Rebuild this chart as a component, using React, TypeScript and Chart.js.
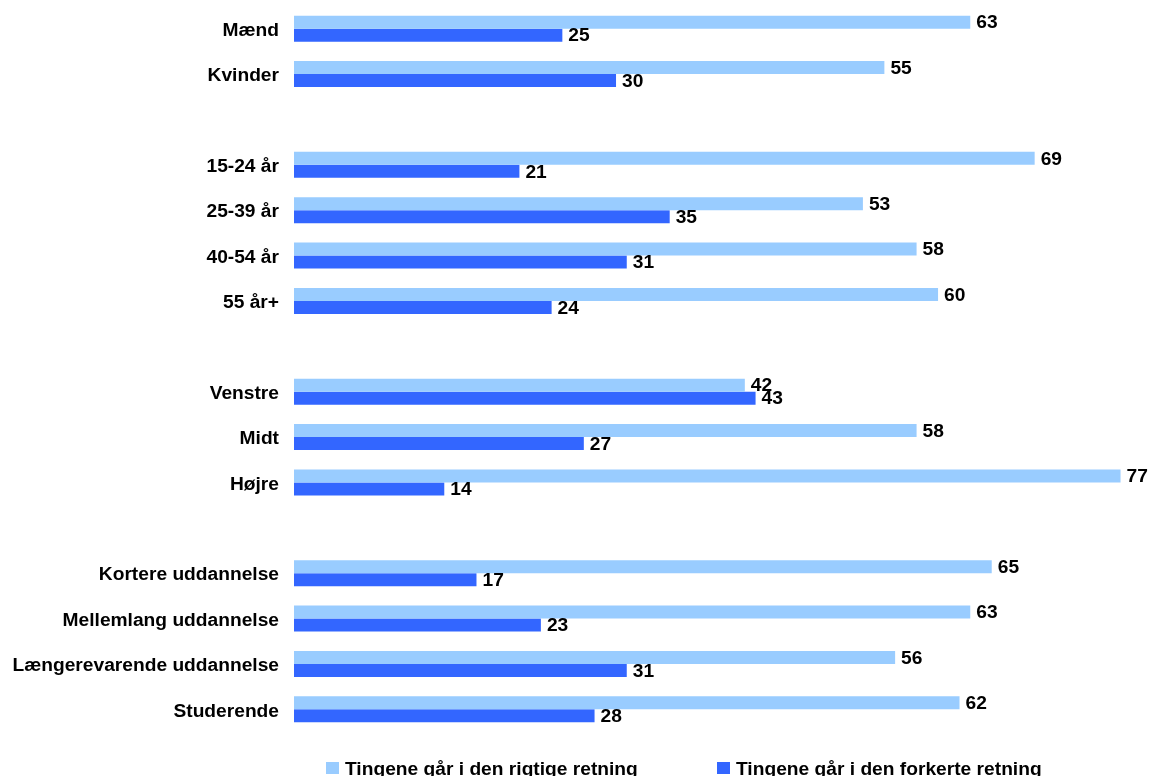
import React, { useEffect, useRef } from "react";
import { Chart, registerables } from "chart.js";

Chart.register(...registerables);

const categories = [
  "Mænd",
  "Kvinder",
  "",
  "15-24 år",
  "25-39 år",
  "40-54 år",
  "55 år+",
  "",
  "Venstre",
  "Midt",
  "Højre",
  "",
  "Kortere uddannelse",
  "Mellemlang uddannelse",
  "Længerevarende uddannelse",
  "Studerende",
];

const rigtigeValues = [63, 55, null, 69, 53, 58, 60, null, 42, 58, 77, null, 65, 63, 56, 62];
const forkerteValues = [25, 30, null, 21, 35, 31, 24, null, 43, 27, 14, null, 17, 23, 31, 28];

const seriesNames = ["Tingene går i den rigtige retning", "Tingene går i den forkerte retning"];
const seriesColors = ["#99CCFF", "#3366FF"];

const FONT = "'Liberation Sans', Arial, sans-serif";
const FS = 19.2;

const valueLabelPlugin = {
  id: "valueLabels",
  afterDatasetsDraw(chart: any) {
    const ctx = chart.ctx;
    ctx.save();
    ctx.font = `bold ${FS}px ${FONT}`;
    ctx.fillStyle = "#000";
    ctx.textBaseline = "middle";
    ctx.textAlign = "left";
    chart.data.datasets.forEach((ds: any, di: number) => {
      const meta = chart.getDatasetMeta(di);
      meta.data.forEach((bar: any, i: number) => {
        const v = ds.data[i];
        if (v === null || v === undefined) return;
        ctx.fillText(String(v), bar.x + 6, bar.y + 1);
      });
    });
    ctx.restore();
  },
};

const customLegendPlugin = {
  id: "customLegend",
  afterDraw(chart: any) {
    const ctx = chart.ctx;
    ctx.save();
    ctx.font = `bold ${FS}px ${FONT}`;
    ctx.textBaseline = "alphabetic";
    ctx.textAlign = "left";
    const starts = [326, 717];
    seriesNames.forEach((name, i) => {
      ctx.fillStyle = seriesColors[i];
      ctx.fillRect(starts[i], 762, 13, 12);
      ctx.fillStyle = "#000";
      ctx.fillText(name, starts[i] + 19, 775);
    });
    ctx.restore();
  },
};

export default function App() {
  const canvasRef = useRef<HTMLCanvasElement | null>(null);

  useEffect(() => {
    if (!canvasRef.current) return;
    const chart = new Chart(canvasRef.current, {
      type: "bar",
      data: {
        labels: categories,
        datasets: [
          {
            label: seriesNames[0],
            data: rigtigeValues,
            backgroundColor: seriesColors[0],
            borderWidth: 0,
            categoryPercentage: 0.574,
            barPercentage: 1,
          },
          {
            label: seriesNames[1],
            data: forkerteValues,
            backgroundColor: seriesColors[1],
            borderWidth: 0,
            categoryPercentage: 0.574,
            barPercentage: 1,
          },
        ],
      },
      options: {
        indexAxis: "y",
        animation: false,
        responsive: false,
        maintainAspectRatio: false,
        layout: { padding: { top: 6, bottom: 44, right: 8, left: 0 } },
        plugins: {
          legend: { display: false },
          tooltip: { enabled: false },
        },
        scales: {
          x: {
            display: false,
            min: 0,
            max: 79,
          },
          y: {
            grid: { display: false, drawTicks: false },
            border: { display: false },
            ticks: {
              color: "#000",
              padding: 15,
              autoSkip: false,
              labelOffset: 2,
              font: { family: FONT, size: FS, weight: "bold" },
            },
            afterFit(scale: any) {
              scale.width = 294;
              scale.paddingTop = 0;
              scale.paddingBottom = 0;
            },
          },
        },
      },
      plugins: [valueLabelPlugin, customLegendPlugin],
    });
    return () => chart.destroy();
  }, []);

  return (
    <div style={{ position: "fixed", left: 0, top: 0, width: 1150, height: 776, background: "#fff" }}>
      <canvas ref={canvasRef} width={1150} height={776} style={{ width: 1150, height: 776 }} />
    </div>
  );
}
